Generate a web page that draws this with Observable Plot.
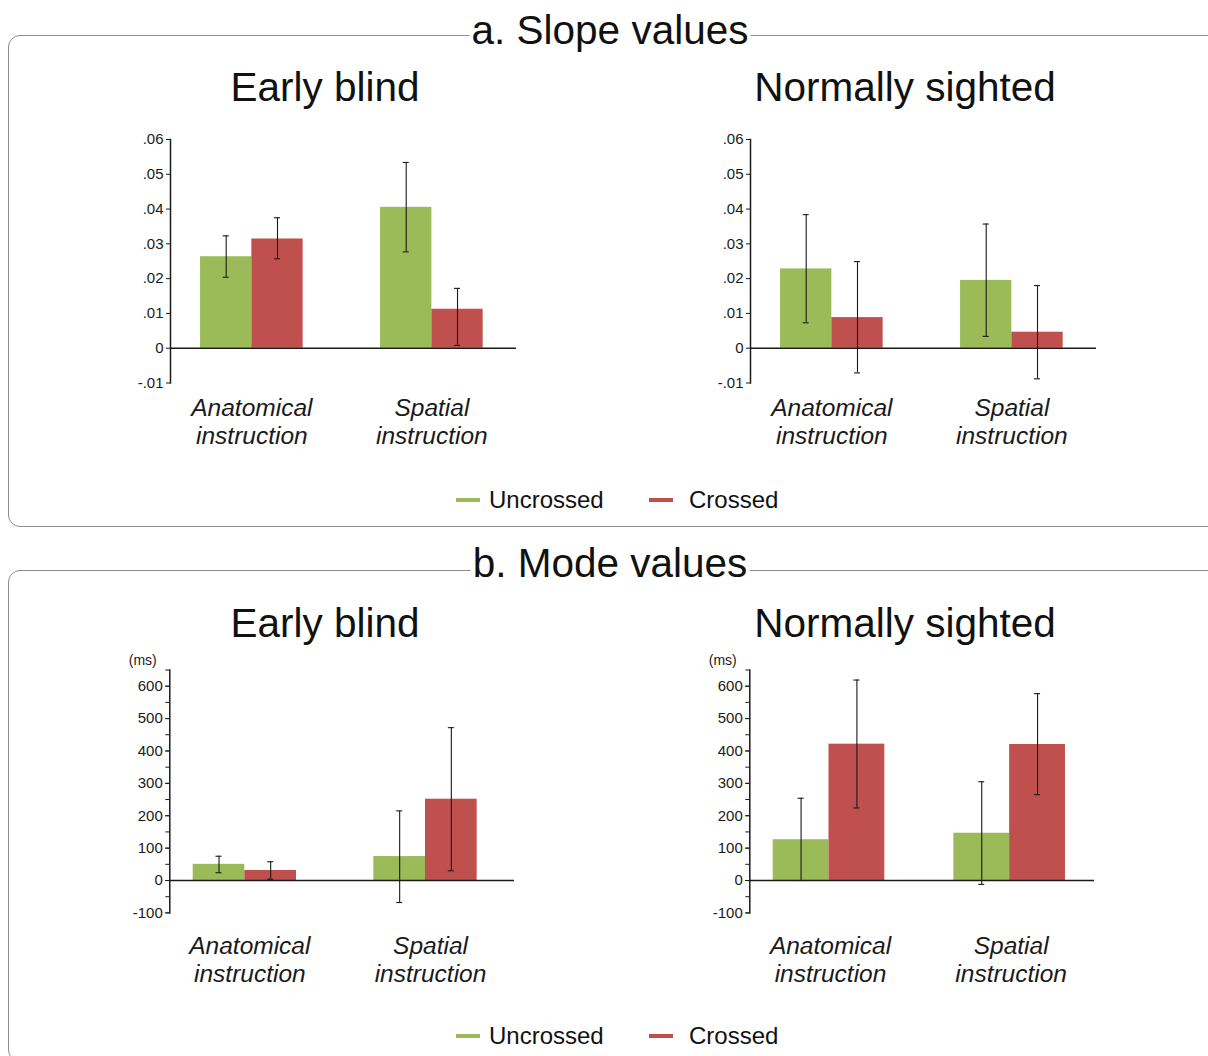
<!DOCTYPE html>
<html>
<head>
<meta charset="utf-8">
<script src="https://cdn.jsdelivr.net/npm/d3@7"></script>
<script src="https://cdn.jsdelivr.net/npm/@observablehq/plot@0.6"></script>
<style>
  html, body { margin: 0; padding: 0; background: #fff; }
  #root { position: relative; width: 1208px; height: 1056px; overflow: hidden; font-family: "Liberation Sans", Arial, sans-serif; color: #111; }
  .box { position: absolute; border: 1.5px solid #8c8c8c; border-radius: 12px; box-sizing: border-box; }
  .title { position: absolute; font-size: 40.5px; line-height: 40px; background: #fff; padding: 0 2px; white-space: nowrap; transform: translateX(-50%); }
  .head { position: absolute; font-size: 40.5px; line-height: 40px; white-space: nowrap; transform: translateX(-50%); }
  .panel { position: absolute; }
  .legend { position: absolute; height: 28px; line-height: 28px; font-size: 24px; white-space: nowrap; }
  .legend .sw { position: absolute; top: 12px; width: 24px; height: 4px; }
  .legend .lb { position: absolute; top: 0; }
  svg g[aria-label="x-axis tick label"], svg g[aria-label="x-axis tick label"] text { font-style: italic; font-size: 24.5px !important; }
  svg g[aria-label="y-axis tick label"], svg g[aria-label="y-axis tick label"] text { font-size: 15px !important; }
</style>
</head>
<body>
<div id="root"></div>
<script>
// ---------- data ----------
const groups = ["Anatomical instruction", "Spatial instruction"];
const series = ["Uncrossed", "Crossed"];
const seriesColors = ["#9BBB59", "#C0504D"];

// a. Slope values — Early blind
const slopeBlindUncrossed     = [0.0263, 0.0405];
const slopeBlindUncrossedLow  = [0.0204, 0.0277];
const slopeBlindUncrossedHigh = [0.0323, 0.0534];
const slopeBlindCrossed       = [0.0314, 0.0112];
const slopeBlindCrossedLow    = [0.0257, 0.0008];
const slopeBlindCrossedHigh   = [0.0375, 0.0172];

// a. Slope values — Normally sighted
const slopeSightedUncrossed     = [0.0228, 0.0195];
const slopeSightedUncrossedLow  = [0.0073, 0.0034];
const slopeSightedUncrossedHigh = [0.0384, 0.0357];
const slopeSightedCrossed       = [0.0088, 0.0046];
const slopeSightedCrossedLow    = [-0.0071, -0.0088];
const slopeSightedCrossedHigh   = [0.0249, 0.0180];

// b. Mode values (ms) — Early blind
const modeBlindUncrossed     = [50, 74];
const modeBlindUncrossedLow  = [24, -68];
const modeBlindUncrossedHigh = [75, 215];
const modeBlindCrossed       = [31, 251];
const modeBlindCrossedLow    = [4, 30];
const modeBlindCrossedHigh   = [58, 472];

// b. Mode values (ms) — Normally sighted
const modeSightedUncrossed     = [126, 146];
const modeSightedUncrossedLow  = [0, -12];
const modeSightedUncrossedHigh = [254, 305];
const modeSightedCrossed       = [421, 420];
const modeSightedCrossedLow    = [224, 265];
const modeSightedCrossedHigh   = [619, 577];

// ticks
const slopeTicks = [-0.01, 0, 0.01, 0.02, 0.03, 0.04, 0.05, 0.06];
const slopeTickLabels = ["-.01", "0", ".01", ".02", ".03", ".04", ".05", ".06"];
const modeTicks = [-100, 0, 100, 200, 300, 400, 500, 600];
const modeTickLabels = ["-100", "0", "100", "200", "300", "400", "500", "600"];
const modeMinorTicks = [-100, -50, 0, 50, 100, 150, 200, 250, 300, 350, 400, 450, 500, 550, 600, 650];
const slopeDomain = [-0.01, 0.06];
const modeDomain = [-100, 650];

const panelTitles = ["Early blind", "Normally sighted"];
const sectionTitles = ["a. Slope values", "b. Mode values"];
const unitLabel = "(ms)";

// ---------- helpers ----------
function makeRows(u, ul, uh, c, cl, ch) {
  const rows = [];
  groups.forEach((g, i) => {
    rows.push({group: g, series: series[0], value: u[i], lo: ul[i], hi: uh[i]});
    rows.push({group: g, series: series[1], value: c[i], lo: cl[i], hi: ch[i]});
  });
  return rows;
}

function panel(o) {
  const bw = d3.scaleBand().domain(groups).range([o.ml, o.W - o.mr])
    .paddingInner(o.pi).paddingOuter(o.po).align(o.align).bandwidth();
  const U = o.rows.filter(d => d.series === series[0]);
  const C = o.rows.filter(d => d.series === series[1]);
  const cap = 3;
  const err = {stroke: "#1a1a1a", strokeWidth: 1.1};
  const marks = [
    Plot.barY(U, {x: "group", y: "value", fill: seriesColors[0], insetRight: bw / 2}),
    Plot.barY(C, {x: "group", y: "value", fill: seriesColors[1], insetLeft: bw / 2}),
    Plot.ruleY([0], {stroke: "#1a1a1a", strokeWidth: 1.4}),
    Plot.ruleX(U, {x: "group", y1: "lo", y2: "hi", dx: -bw / 4, ...err}),
    Plot.ruleX(C, {x: "group", y1: "lo", y2: "hi", dx: bw / 4, ...err}),
    Plot.tickY(U, {x: "group", y: "hi", dx: -bw / 4, insetLeft: bw / 2 - cap, insetRight: bw / 2 - cap, ...err}),
    Plot.tickY(U, {x: "group", y: "lo", dx: -bw / 4, insetLeft: bw / 2 - cap, insetRight: bw / 2 - cap, ...err}),
    Plot.tickY(C, {x: "group", y: "hi", dx: bw / 4, insetLeft: bw / 2 - cap, insetRight: bw / 2 - cap, ...err}),
    Plot.tickY(C, {x: "group", y: "lo", dx: bw / 4, insetLeft: bw / 2 - cap, insetRight: bw / 2 - cap, ...err}),
  ];
  if (o.minor) marks.push(Plot.axisY({ticks: o.minor, tickFormat: () => "", tickSize: 4, stroke: "#1a1a1a"}));
  marks.push(Plot.axisY({ticks: o.ticks, tickFormat: d => o.labels[o.ticks.indexOf(d)], tickSize: 4, tickPadding: 3, fontSize: 15, stroke: "#1a1a1a", fill: "#1a1a1a"}));
  marks.push(Plot.axisX({tickSize: 0, tickPadding: o.labelPad, dx: o.labelDx || 0, fontSize: 24.5, fontStyle: "italic", lineHeight: 1.15,
    fill: "#1a1a1a", tickFormat: d => d.replace(" ", "\n"), label: null}));
  marks.push(Plot.frame({anchor: "left", stroke: "#1a1a1a", strokeWidth: 1.5}));
  if (o.unit) marks.push(Plot.text([o.unit], {frameAnchor: "top-left", lineAnchor: "middle", dx: -41, dy: -9, textAnchor: "start", fontSize: 14, fill: "#1a1a1a"}));
  const svg = Plot.plot({
    width: o.W, height: o.H,
    marginLeft: o.ml, marginRight: o.mr, marginTop: o.mt, marginBottom: o.mb,
    style: {fontFamily: "Liberation Sans, Arial, sans-serif", fontSize: "14px", color: "#1a1a1a", background: "transparent", overflow: "visible"},
    x: {type: "band", domain: groups, paddingInner: o.pi, paddingOuter: o.po, align: o.align, round: false, label: null},
    y: {domain: o.domain, nice: false, label: null},
    marks
  });
  const wrap = document.createElement("div");
  wrap.className = "panel";
  wrap.style.left = o.left + "px";
  wrap.style.top = o.top + "px";
  wrap.appendChild(svg);
  root.appendChild(wrap);
}

function addDiv(cls, text, left, top) {
  const d = document.createElement("div");
  d.className = cls;
  d.textContent = text;
  d.style.left = left + "px";
  d.style.top = top + "px";
  root.appendChild(d);
  return d;
}

function legend(top) {
  const lg = document.createElement("div");
  lg.className = "legend";
  lg.style.left = "0px";
  lg.style.top = top + "px";
  lg.style.width = "1208px";
  const pos = [[456, 489], [649, 689]];
  series.forEach((s, i) => {
    const sw = document.createElement("div");
    sw.className = "sw";
    sw.style.left = pos[i][0] + "px";
    sw.style.background = seriesColors[i];
    const lb = document.createElement("div");
    lb.className = "lb";
    lb.style.left = pos[i][1] + "px";
    lb.textContent = s;
    lg.appendChild(sw);
    lg.appendChild(lb);
  });
  root.appendChild(lg);
}

const root = document.getElementById("root");

// boxes
const b1 = document.createElement("div"); b1.className = "box";
Object.assign(b1.style, {left: "8px", top: "35px", width: "1212px", height: "492px"});
root.appendChild(b1);
const b2 = document.createElement("div"); b2.className = "box";
Object.assign(b2.style, {left: "8px", top: "570px", width: "1212px", height: "492px"});
root.appendChild(b2);

// section titles
addDiv("title", sectionTitles[0], 610, 10);
addDiv("title", sectionTitles[1], 610, 543);

// panel heads
addDiv("head", panelTitles[0], 325, 67);
addDiv("head", panelTitles[1], 905, 67);
addDiv("head", panelTitles[0], 325, 603);
addDiv("head", panelTitles[1], 905, 603);

// slope panels
const slopeCommon = {W: 410, H: 340, ml: 50, mr: 14, mt: 14, mb: 82.5, domain: slopeDomain,
  ticks: slopeTicks, labels: slopeTickLabels, pi: 0.43, po: 0.176, align: 0.474, labelPad: 13, top: 125};
panel({...slopeCommon, left: 120,
  rows: makeRows(slopeBlindUncrossed, slopeBlindUncrossedLow, slopeBlindUncrossedHigh,
                 slopeBlindCrossed, slopeBlindCrossedLow, slopeBlindCrossedHigh)});
panel({...slopeCommon, left: 700,
  rows: makeRows(slopeSightedUncrossed, slopeSightedUncrossedLow, slopeSightedUncrossedHigh,
                 slopeSightedCrossed, slopeSightedCrossedLow, slopeSightedCrossedHigh)});

// mode panels
const modeCommon = {W: 420, H: 360, ml: 59.3, mr: 16, mt: 29.5, mb: 87.6, domain: modeDomain,
  ticks: modeTicks, labels: modeTickLabels, minor: modeMinorTicks, labelPad: 21, top: 640, unit: unitLabel};
panel({...modeCommon, left: 110, pi: 0.428, po: 0.168, align: 0.385, labelDx: 5,
  rows: makeRows(modeBlindUncrossed, modeBlindUncrossedLow, modeBlindUncrossedHigh,
                 modeBlindCrossed, modeBlindCrossedLow, modeBlindCrossedHigh)});
panel({...modeCommon, left: 690, pi: 0.382, po: 0.145, align: 0.446, labelDx: 1.5,
  rows: makeRows(modeSightedUncrossed, modeSightedUncrossedLow, modeSightedUncrossedHigh,
                 modeSightedCrossed, modeSightedCrossedLow, modeSightedCrossedHigh)});

legend(486);
legend(1022);
</script>
</body>
</html>
